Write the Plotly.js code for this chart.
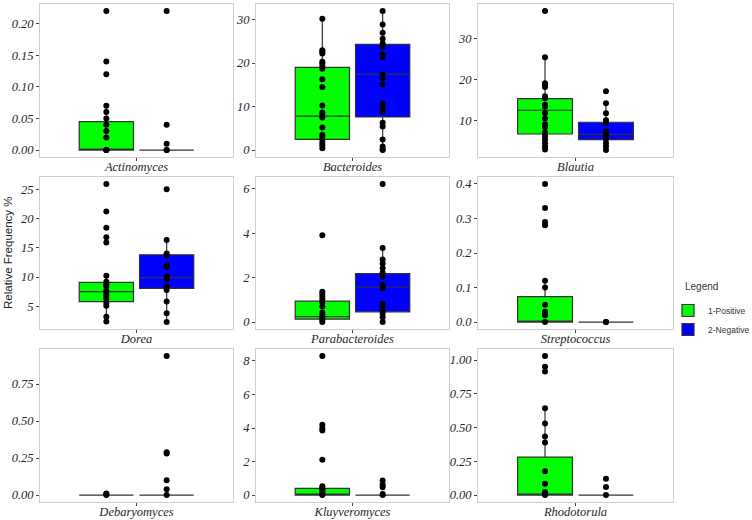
<!DOCTYPE html>
<html>
<head>
<meta charset="utf-8">
<script src="https://cdn.plot.ly/plotly-3.0.1.min.js"></script>
<style>html,body{margin:0;padding:0;background:#fff;}#chart{width:752px;height:520px;}</style>
</head>
<body>
<div id="chart"></div>
<script>
// ---------- DATA ----------
const genera = ['Actinomyces','Bacteroides','Blautia','Dorea','Parabacteroides','Streptococcus','Debaryomyces','Kluyveromyces','Rhodotorula'];
const groups = ['1-Positive','2-Negative'];
const legendTitle = 'Legend';
const yTitle = 'Relative Frequency %';

// box statistics per genus: positive group
const posQ1     = [0,     2.45, 6.6,   5.8,  0.13, 0,     0, 0,    0];
const posMedian = [0,     7.8,  12.45, 7.5,  0.25, 0,     0, 0.02, 0];
const posQ3     = [0.045, 19.0, 15.3,  9.07, 0.94, 0.074, 0, 0.40, 0.281];
const posLow    = [0,     0.4,  2.8,   2.4,  0,    0,     0, 0,    0];
const posHigh   = [0.07,  30.2, 25.5,  10.2, 1.37, 0.12,  0, 0.52, 0.643];
// negative group
const negQ1     = [0, 7.6,   5.2,  8.05, 0.46, 0, 0, 0, 0];
const negMedian = [0, 17.45, 6.5,  9.9,  1.58, 0, 0, 0, 0];
const negQ3     = [0, 24.3,  9.5,  13.8, 2.18, 0, 0, 0, 0];
const negLow    = [0, 0,     2.65, 2.3,  0,    0, 0, 0, 0];
const negHigh   = [0, 32.0,  14.2, 16.3, 3.33, 0, 0, 0, 0];

// individual sample values
const posActinomyces = [0.22,0.14,0.12,0.07,0.06,0.05,0.04,0.03,0.02,0,0,0];
const negActinomyces = [0.22,0.04,0.01,0,0];
const posBacteroides = [30.2,22.95,22.6,22.2,20.3,19.9,19.3,18.7,16.3,14.5,10.25,8.65,8.3,7.5,5.2,3.5,3.1,2.45,1.7,1.1,0.4];
const negBacteroides = [32.0,28.9,27.0,25.6,24.5,23.7,22.0,21.4,17.4,16.6,15.1,10.7,9.9,8.8,6.3,5.4,2.45,0.8,0.15,0];
const posBlautia = [36.9,25.5,19.1,18.7,18.2,15.9,15.4,13.8,13.3,11.8,10.4,9.0,8.4,7.1,6.1,5.3,4.3,3.5,2.8];
const negBlautia = [17.1,14.2,11.7,10.0,9.3,7.3,6.7,6.1,5.3,4.3,3.5,2.65];
const posDorea = [25.9,21.2,18.4,16.8,15.9,10.2,9.2,8.85,8.4,7.7,7.3,6.8,6.3,5.6,5.1,3.2,2.4];
const negDorea = [25.0,16.3,14.0,13.7,12.0,11.7,10.1,9.6,8.4,7.8,5.8,3.8,2.3];
const posParabacteroides = [3.91,1.37,1.27,1.15,1.03,0.88,0.70,0.43,0.33,0.22,0.10,0];
const negParabacteroides = [6.22,3.33,2.82,2.64,2.42,2.22,2.12,2.04,1.67,1.52,0.82,0.70,0.52,0.37,0.22,0];
const posStreptococcus = [0.40,0.33,0.29,0.28,0.12,0.10,0.05,0.03,0.02,0];
const negStreptococcus = [0,0];
const posDebaryomyces = [0.01,0.005,0];
const negDebaryomyces = [0.94,0.29,0.28,0.10,0.04,0];
const posKluyveromyces = [8.3,4.19,3.99,3.85,2.10,0.52,0.42,0.34,0.26,0.16,0.06,0];
const negKluyveromyces = [0.87,0.62,0.46,0.06,0];
const posRhodotorula = [1.03,0.95,0.914,0.643,0.53,0.433,0.39,0.177,0.084,0.022,0.007,0];
const negRhodotorula = [0.12,0.06,0];

const posPoints = [posActinomyces,posBacteroides,posBlautia,posDorea,posParabacteroides,posStreptococcus,posDebaryomyces,posKluyveromyces,posRhodotorula];
const negPoints = [negActinomyces,negBacteroides,negBlautia,negDorea,negParabacteroides,negStreptococcus,negDebaryomyces,negKluyveromyces,negRhodotorula];

// y tick values and labels per panel
const yTickVals = [
  [0,0.05,0.1,0.15,0.2],[0,10,20,30],[10,20,30],
  [5,10,15,20,25],[0,2,4,6],[0,0.1,0.2,0.3,0.4],
  [0,0.25,0.5,0.75],[0,2,4,6,8],[0,0.25,0.5,0.75,1]
];
const yTickText = [
  ['0.00','0.05','0.10','0.15','0.20'],['0','10','20','30'],['10','20','30'],
  ['5','10','15','20','25'],['0','2','4','6'],['0.0','0.1','0.2','0.3','0.4'],
  ['0.00','0.25','0.50','0.75'],['0','2','4','6','8'],['0.00','0.25','0.50','0.75','1.00']
];

// ---------- STYLE ----------
const colors = ['#00FF00','#0000FF'];
const groupPos = [0.8125, 1.1875];
const boxWidth = 0.3375;
const colDomains = [[40/752,233/752],[256/752,449/752],[478/752,673/752]];
const rowDomains = [[1-157/520,1-4/520],[1-329/520,1-177/520],[1-502/520,1-349/520]];
const serifItalic = {family:'Liberation Serif, Times New Roman, serif', style:'italic', size:12.5, color:'#262626'};
const sans = 'Liberation Sans, Arial, sans-serif';

const traces = [];
const layout = {
  width:752, height:520,
  margin:{l:0,r:0,t:0,b:0,autoexpand:false},
  paper_bgcolor:'#ffffff', plot_bgcolor:'#ffffff',
  showlegend:true,
  legend:{
    x:668/752, y:1-296/520, xanchor:'left', yanchor:'top',
    font:{family:sans, size:8.5, color:'#333'},
    bgcolor:'rgba(0,0,0,0)', tracegroupgap:0, itemwidth:30
  },
  annotations:[
    {text:yTitle, xref:'paper', yref:'paper',
     x:8/752, y:1-253/520, xanchor:'center', yanchor:'middle', textangle:-90, showarrow:false,
     font:{family:sans, size:11.5, color:'#222'}},
    {text:legendTitle, xref:'paper', yref:'paper',
     x:683/752, y:1-286/520, xanchor:'left', yanchor:'middle', showarrow:false,
     font:{family:sans, size:10, color:'#333'}}
  ]
};

const statSets = [
  [posQ1,posMedian,posQ3,posLow,posHigh],
  [negQ1,negMedian,negQ3,negLow,negHigh]
];
const pointSets = [posPoints, negPoints];

genera.forEach((g,i)=>{
  const k = i===0 ? '' : String(i+1);
  const xa = 'x'+k, ya = 'y'+k;
  const r = Math.floor(i/3), c = i%3;

  for (let gi=0; gi<2; gi++){
    const s = statSets[gi];
    traces.push({
      type:'box', xaxis:xa, yaxis:ya,
      name:groups[gi], legendgroup:groups[gi], showlegend:i===0,
      x:[groupPos[gi]], q1:[s[0][i]], median:[s[1][i]], q3:[s[2][i]],
      lowerfence:[s[3][i]], upperfence:[s[4][i]],
      width:boxWidth, whiskerwidth:0, boxpoints:false,
      fillcolor:colors[gi], line:{color:'#333333', width:1.2},
      hoverinfo:'skip'
    });
  }
  for (let gi=0; gi<2; gi++){
    const vals = pointSets[gi][i];
    traces.push({
      type:'scatter', mode:'markers', xaxis:xa, yaxis:ya, showlegend:false,
      x:vals.map(()=>groupPos[gi]), y:vals,
      marker:{color:'#000000', size:6}, hoverinfo:'skip'
    });
  }

  const all = posPoints[i].concat(negPoints[i], [posLow[i],posHigh[i],negLow[i],negHigh[i]]);
  const mn = Math.min(...all), mx = Math.max(...all);
  const pad = 0.05*(mx-mn);

  layout['xaxis'+k] = {
    domain:colDomains[c], anchor:ya, range:[0.4,1.6],
    tickvals:[1], ticktext:[g], tickfont:serifItalic,
    ticks:'outside', ticklen:3, tickcolor:'#444', tickwidth:1,
    ticklabelstandoff:-5,
    showline:true, mirror:true, linecolor:'#cfcfcf', linewidth:1,
    showgrid:false, zeroline:false, fixedrange:true
  };
  layout['yaxis'+k] = {
    domain:rowDomains[r], anchor:xa, range:[mn-pad, mx+pad],
    tickvals:yTickVals[i], ticktext:yTickText[i], tickfont:serifItalic,
    ticks:'outside', ticklen:3, tickcolor:'#444', tickwidth:1,
    showline:true, mirror:true, linecolor:'#cfcfcf', linewidth:1,
    showgrid:false, zeroline:false, fixedrange:true
  };
});

Plotly.newPlot('chart', traces, layout, {displayModeBar:false, staticPlot:true});
</script>
</body>
</html>
